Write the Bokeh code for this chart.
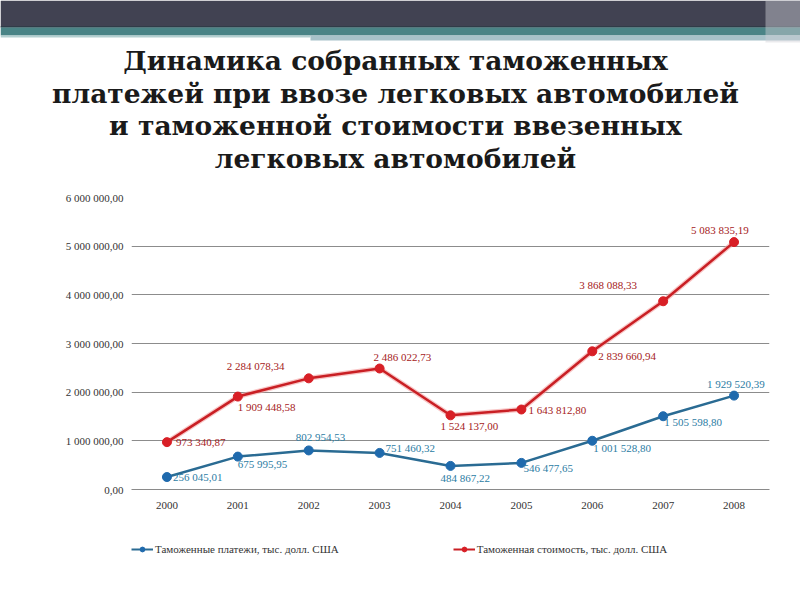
from bokeh.plotting import figure
from bokeh.models import (ColumnDataSource, FactorRange, Range1d, FixedTicker, LabelSet,
                          Legend, LegendItem)
from bokeh.core.properties import value
from bokeh.embed import file_html
from bokeh.resources import INLINE

# ---------------- data ----------------
years = ["2000", "2001", "2002", "2003", "2004", "2005", "2006", "2007", "2008"]
payments = [256045.01, 675995.95, 802954.53, 751460.32, 484867.22,
            546477.65, 1001528.80, 1505598.80, 1929520.39]
customs_value = [973340.87, 1909448.58, 2284078.34, 2486022.73, 1524137.00,
                 1643812.80, 2839660.94, 3868088.33, 5083835.19]
y_ticks = [0, 1000000, 2000000, 3000000, 4000000, 5000000, 6000000]
y_tick_labels = ["0,00", "1 000 000,00", "2 000 000,00", "3 000 000,00",
                 "4 000 000,00", "5 000 000,00", "6 000 000,00"]
series_names = ["Таможенные платежи, тыс. долл. США",
                "Таможенная стоимость, тыс. долл. США"]
title_lines = ["Динамика собранных таможенных",
               "платежей при ввозе легковых автомобилей",
               "и таможенной стоимости ввезенных",
               "легковых автомобилей"]

# label placement (screen px): left-aligned start offset and vertical offset (up positive)
blue_dx = [6, 0, -13, 6, -10, 2, 1, 1, -27]
blue_dy = [0, -7, 13, 5, -12, -5, -7, -6, 12]
red_dx = [9, 0, -82, -6, -10, 7, 6, -84, -43]
red_dy = [0, -10, 12, 12, -11, 0, -5, 16, 12]


def fmt(v):
    return f"{v:,.2f}".replace(",", " ").replace(".", ",")


SERIF = "Liberation Serif"
BLUE_LINE = "#2a6b93"
BLUE_MARK = "#1f6aad"
BLUE_TEXT = "#2b7ca3"
RED_LINE = "#c91f24"
RED_MARK = "#d81f26"
RED_TEXT = "#a51a22"

W = 800
HEAD_H = 180
LEG_H = 70

# ---------------- header with title ----------------
h = figure(width=W, height=HEAD_H, x_range=Range1d(0, W), y_range=Range1d(HEAD_H, 0),
           output_backend="svg", toolbar_location=None, min_border=0,
           x_axis_location=None, y_axis_location=None)
h.grid.grid_line_color = None
h.outline_line_color = None
h.background_fill_color = "white"
h.border_fill_color = "white"
h.quad(left=[0], right=[W], top=[0], bottom=[27], fill_color="#414252", line_color=None)
h.quad(left=[0], right=[W], top=[25.5], bottom=[27], fill_color="#2f3c48", line_color=None)
h.quad(left=[0], right=[W], top=[27], bottom=[35], fill_color="#4a8486", line_color=None)
h.quad(left=[0], right=[310], top=[35], bottom=[37], fill_color="#b3cfd0", line_color=None)
h.quad(left=[310], right=[W], top=[35], bottom=[40], fill_color="#a7c2c9", line_color=None)
h.quad(left=[765], right=[W], top=[0], bottom=[42], fill_color="#d0d0d8", fill_alpha=0.45,
       line_color=None)
h.text(x=[395] * 4, y=[60, 92.5, 125, 157.5], text=title_lines, text_align="center",
       text_baseline="middle", text_font=value("DejaVu Serif"), text_font_style="bold",
       text_font_size="26.5px", text_color="#1a1a1a")

# ---------------- chart ----------------
p = figure(frame_width=638, frame_height=292, x_range=FactorRange(*years),
           y_range=Range1d(0, 6000000), output_backend="svg", toolbar_location=None,
           min_border_left=131, min_border_right=31, min_border_top=17, min_border_bottom=41)
p.outline_line_color = None
p.background_fill_color = "white"
p.border_fill_color = "white"

p.yaxis.ticker = FixedTicker(ticks=y_ticks)
p.yaxis.major_label_overrides = {t: l for t, l in zip(y_ticks, y_tick_labels)}
p.yaxis.axis_line_color = None
p.yaxis.major_tick_line_color = None
p.yaxis.minor_tick_line_color = None
p.yaxis.major_tick_out = 0
p.yaxis.major_tick_in = 0
p.yaxis.major_label_standoff = 8
p.yaxis.major_label_text_font = SERIF
p.yaxis.major_label_text_font_size = "11px"
p.yaxis.major_label_text_color = "#333333"

p.xaxis.axis_line_color = "#8a8a8a"
p.xaxis.major_tick_line_color = None
p.xaxis.minor_tick_line_color = None
p.xaxis.major_tick_out = 0
p.xaxis.major_tick_in = 0
p.xaxis.major_label_standoff = 12
p.xaxis.major_label_text_font = SERIF
p.xaxis.major_label_text_font_size = "11px"
p.xaxis.major_label_text_color = "#333333"

p.xgrid.grid_line_color = None
p.ygrid.ticker = FixedTicker(ticks=y_ticks[1:-1])
p.ygrid.grid_line_color = "#8c8c8c"
p.ygrid.grid_line_width = 1

src_b = ColumnDataSource(dict(x=years, y=payments, t=[fmt(v) for v in payments],
                              dx=blue_dx, dy=blue_dy))
src_r = ColumnDataSource(dict(x=years, y=customs_value, t=[fmt(v) for v in customs_value],
                              dx=red_dx, dy=red_dy))


def draw_series(fig, msize, lw):
    fig.line("x", "y", source=src_r, line_color="#f3a0a0", line_width=lw * 2, line_alpha=0.6)
    b_l = fig.line("x", "y", source=src_b, line_color=BLUE_LINE, line_width=lw)
    b_s = fig.scatter("x", "y", source=src_b, size=msize, fill_color=BLUE_MARK,
                      line_color=BLUE_MARK)
    r_l = fig.line("x", "y", source=src_r, line_color=RED_LINE, line_width=lw)
    r_s = fig.scatter("x", "y", source=src_r, size=msize, fill_color=RED_MARK,
                      line_color=RED_MARK)
    return b_l, b_s, r_l, r_s


draw_series(p, 9, 2.5)

for src, col in ((src_b, BLUE_TEXT), (src_r, RED_TEXT)):
    p.add_layout(LabelSet(x="x", y="y", text="t", source=src, x_offset="dx", y_offset="dy",
                          text_align="left", text_baseline="middle", text_font=SERIF,
                          text_font_size="11px", text_color=col))

# ---------------- legend strip (same series, viewed off-range so only the key shows) -------
g = figure(width=W, height=LEG_H, x_range=FactorRange(*years),
           y_range=Range1d(-2e7, -1e7), output_backend="svg", toolbar_location=None,
           min_border=0, x_axis_location=None, y_axis_location=None)
g.grid.grid_line_color = None
g.outline_line_color = None
g.background_fill_color = "white"
g.border_fill_color = "white"
bl, bs, rl, rs = draw_series(g, 7, 2)

legend = Legend(items=[LegendItem(label=series_names[0], renderers=[bl, bs]),
                       LegendItem(label=series_names[1], renderers=[rl, rs])],
                orientation="horizontal", location=(131, 45), margin=0, padding=0,
                spacing=114, glyph_width=22, glyph_height=12, label_standoff=2,
                label_text_font=SERIF, label_text_font_size="11px",
                label_text_color="#333333", border_line_color=None,
                background_fill_alpha=0)
g.add_layout(legend)

open("out.html", "w").write(file_html([h, p, g], INLINE))
